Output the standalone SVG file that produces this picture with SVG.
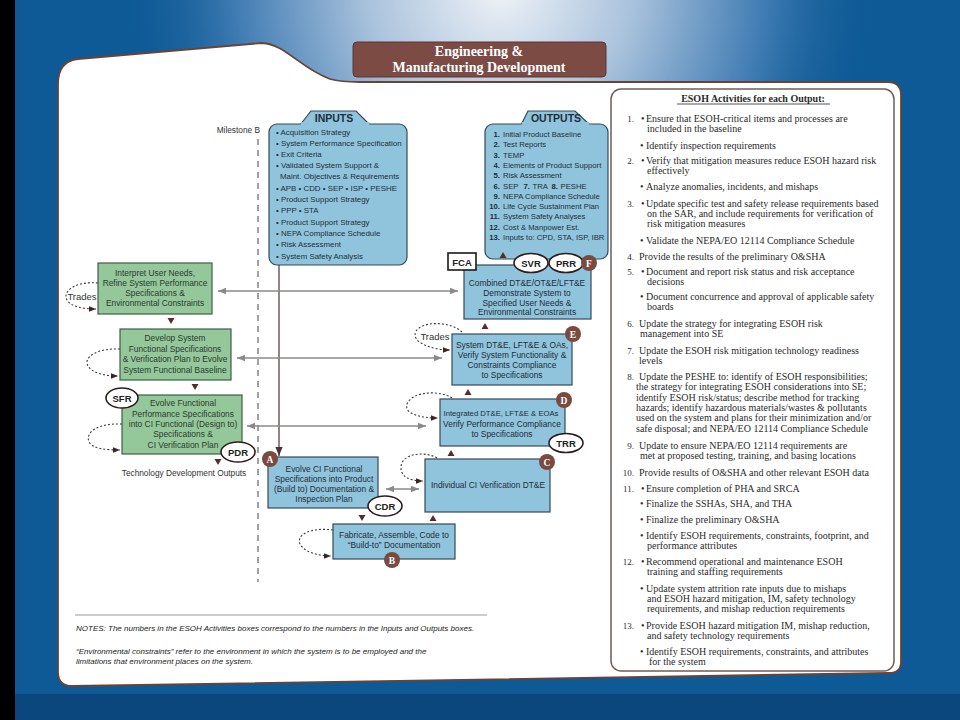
<svg xmlns="http://www.w3.org/2000/svg" width="960" height="720" viewBox="0 0 960 720">
<defs>
<radialGradient id="glow" cx="500" cy="-10" r="380" gradientUnits="userSpaceOnUse">
<stop offset="0" stop-color="#eef2f7"/>
<stop offset="0.35" stop-color="#a9c2dc"/>
<stop offset="0.7" stop-color="#3f7bb3"/>
<stop offset="1" stop-color="#0e5a96" stop-opacity="0"/>
</radialGradient>
<marker id="ag" viewBox="0 0 10 10" refX="10" refY="5" markerWidth="9" markerHeight="8" markerUnits="userSpaceOnUse" orient="auto-start-reverse">
<path d="M0,1 L10,5 L0,9 z" fill="#8a8a8a"/>
</marker>
<marker id="ad" viewBox="0 0 10 10" refX="10" refY="5" markerWidth="7" markerHeight="7" markerUnits="userSpaceOnUse" orient="auto">
<path d="M0,1 L10,5 L0,9 z" fill="#3b2522"/>
</marker>
<marker id="av" viewBox="0 0 10 10" refX="10" refY="5" markerWidth="9" markerHeight="9" markerUnits="userSpaceOnUse" orient="auto">
<path d="M0,1 L10,5 L0,9 z" fill="#4a3330"/>
</marker>
<style>
.sans{font-family:"Liberation Sans",Arial,sans-serif;}
.serif{font-family:"Liberation Serif","Times New Roman",serif;}
.bb{fill:#8fc4dc;stroke:#34495a;stroke-width:1.2;}
.bg{fill:#94c89a;stroke:#3e5e46;stroke-width:1.2;}
.t{font-family:"Liberation Sans",Arial,sans-serif;font-size:8.4px;fill:#1f2d3a;text-anchor:middle;}
.t.sm2{font-size:7.7px;}
.tg{font-family:"Liberation Sans",Arial,sans-serif;font-size:8.4px;fill:#2c3a2f;text-anchor:middle;}
.li{font-family:"Liberation Sans",Arial,sans-serif;font-size:7.9px;fill:#1f2d3a;}
.lo{font-family:"Liberation Sans",Arial,sans-serif;font-size:7.7px;fill:#1f2d3a;}
.hd{font-family:"Liberation Sans",Arial,sans-serif;font-size:10.5px;font-weight:bold;fill:#1f2d3a;text-anchor:middle;}
.ms{fill:#fff;stroke:#2d1e1c;stroke-width:1.6;}
.mt{font-family:"Liberation Sans",Arial,sans-serif;font-size:9.5px;font-weight:bold;fill:#222;text-anchor:middle;}
.bd{fill:#7a4a41;}
.bt{font-family:"Liberation Serif",serif;font-size:9.5px;font-weight:bold;fill:#fff;text-anchor:middle;}
.loop{fill:none;stroke:#3a3a3a;stroke-width:1.1;stroke-dasharray:2 2;marker-end:url(#ad);}
.hl{stroke:#8a8a8a;stroke-width:1.6;fill:none;marker-start:url(#ag);marker-end:url(#ag);}
.tri{fill:#5a2c28;}
.e{font-family:"Liberation Serif","Times New Roman",serif;font-size:10px;fill:#2a2a2a;}
.en{font-family:"Liberation Serif","Times New Roman",serif;font-size:9px;fill:#2a2a2a;text-anchor:end;}
.note{font-family:"Liberation Sans",Arial,sans-serif;font-size:8px;font-style:italic;fill:#222;}
.sm{font-family:"Liberation Sans",Arial,sans-serif;font-size:8.3px;fill:#333;}
.on{font-weight:bold;text-anchor:end;}
</style>
</defs>

<!-- background -->
<rect x="0" y="0" width="960" height="720" fill="#0e5a96"/>
<rect x="0" y="0" width="960" height="720" fill="url(#glow)"/>
<rect x="0" y="694" width="960" height="26" fill="#0b467d"/>
<rect x="0" y="0" width="15" height="720" fill="#000"/>

<!-- white panel -->
<path d="M58,84 Q58,61 78,59 L262,43 C285,44 300,68 330,79 Q340,82 360,82 L888,82 Q901,82 901,95 L901,662 Q901,673 889,673 L72,686 Q58,686 58,672 Z" fill="#fff" stroke="#6b4336" stroke-width="1.8"/>

<!-- title -->
<g id="title">
<rect x="353" y="42" width="253" height="35" rx="4" fill="#7b4b44" stroke="#5e3530" stroke-width="1"/>
<text x="479" y="56" class="serif" font-size="14" font-weight="bold" fill="#fff" text-anchor="middle">Engineering &amp;</text>
<text x="479" y="72" class="serif" font-size="14" font-weight="bold" fill="#fff" text-anchor="middle">Manufacturing Development</text>
</g>

<!-- milestone B -->
<g id="milestone-b">
<text x="260" y="133" class="sm" text-anchor="end">Milestone B</text>
<line x1="258" y1="139" x2="258" y2="582" stroke="#444" stroke-width="1" stroke-dasharray="6 5"/>
</g>

<!-- inputs -->
<g id="inputs">
<path d="M300,125 L311,111 L356,111 L370,125 Z" class="bb"/>
<rect x="269" y="124" width="138" height="141" rx="8" class="bb"/>
<rect x="300.8" y="122" width="68.5" height="4" fill="#8fc4dc"/>
<text x="334" y="122" class="hd">INPUTS</text>
<text class="li" x="276" y="134.5">• Acquisition Strategy</text>
<text class="li" x="276" y="146">• System Performance Specification</text>
<text class="li" x="276" y="157">• Exit Criteria</text>
<text class="li" x="276" y="168">• Validated System Support &amp;</text>
<text class="li" x="280" y="178.7">Maint. Objectives &amp; Requirements</text>
<text class="li" x="276" y="190.5">• APB  • CDD  • SEP  • ISP  • PESHE</text>
<text class="li" x="276" y="202">• Product Support Strategy</text>
<text class="li" x="276" y="213">• PPP  • STA</text>
<text class="li" x="276" y="224.5">• Product Support Strategy</text>
<text class="li" x="276" y="235.5">• NEPA Compliance Schedule</text>
<text class="li" x="276" y="247">• Risk Assessment</text>
<text class="li" x="276" y="258.5">• System Safety Analysis</text>
</g>

<!-- outputs -->
<g id="outputs">
<path d="M521,125 L528,111 L575,111 L590,125 Z" class="bb"/>
<rect x="485" y="124" width="123" height="135" rx="8" class="bb"/>
<rect x="521.8" y="122" width="67.5" height="4" fill="#8fc4dc"/>
<text x="556" y="122" class="hd">OUTPUTS</text>
<g class="lo">
<text x="500" y="137" class="on">1.</text><text x="503" y="137">Initial Product Baseline</text>
<text x="500" y="147.3" class="on">2.</text><text x="503" y="147.3">Test Reports</text>
<text x="500" y="157.6" class="on">3.</text><text x="503" y="157.6">TEMP</text>
<text x="500" y="167.9" class="on">4.</text><text x="503" y="167.9">Elements of Product Support</text>
<text x="500" y="178.2" class="on">5.</text><text x="503" y="178.2">Risk Assessment</text>
<text x="500" y="188.5" class="on">6.</text><text x="503" y="188.5">SEP</text>
<text x="530" y="188.5" class="on">7.</text><text x="532.5" y="188.5">TRA</text>
<text x="558" y="188.5" class="on">8.</text><text x="560.5" y="188.5">PESHE</text>
<text x="500" y="198.8" class="on">9.</text><text x="503" y="198.8">NEPA Compliance Schedule</text>
<text x="500" y="209.1" class="on">10.</text><text x="503" y="209.1">Life Cycle Sustainment Plan</text>
<text x="500" y="219.4" class="on">11.</text><text x="503" y="219.4">System Safety Analyses</text>
<text x="500" y="229.7" class="on">12.</text><text x="503" y="229.7">Cost &amp; Manpower Est.</text>
<text x="500" y="240" class="on">13.</text><text x="503" y="240">Inputs to: CPD, STA, ISP, IBR</text>
</g>
</g>

<!-- left green nodes -->
<g id="n-interpret">
<rect x="98" y="263" width="114" height="51" class="bg"/>
<text class="tg" x="155" y="276">Interpret User Needs,</text>
<text class="tg" x="155" y="286">Refine System Performance</text>
<text class="tg" x="155" y="296">Specifications &amp;</text>
<text class="tg" x="155" y="306">Environmental Constraints</text>
</g>
<g id="n-develop">
<rect x="120" y="329" width="111" height="51" class="bg"/>
<text class="tg" x="175" y="341">Develop System</text>
<text class="tg" x="175" y="352">Functional Specifications</text>
<text class="tg" x="175" y="362">&amp; Verification Plan to Evolve</text>
<text class="tg" x="175" y="373">System Functional Baseline</text>
</g>
<g id="n-evolve-functional">
<rect x="122" y="395" width="120" height="59" class="bg"/>
<text class="tg" x="183" y="406">Evolve Functional</text>
<text class="tg" x="183" y="417">Performance Specifications</text>
<text class="tg" x="183" y="427">into CI Functional (Design to)</text>
<text class="tg" x="183" y="437">Specifications &amp;</text>
<text class="tg" x="183" y="448">CI Verification Plan</text>
<ellipse cx="122" cy="398" rx="16" ry="10" class="ms"/>
<text class="mt" x="122" y="401.5">SFR</text>
<ellipse cx="238" cy="452" rx="17" ry="10" class="ms"/>
<text class="mt" x="238" y="455.5">PDR</text>
</g>
<text class="sm" x="184" y="476" text-anchor="middle" fill="#444">Technology Development Outputs</text>

<!-- blue nodes -->
<g id="n-F">
<rect x="464" y="265" width="127" height="54" class="bb"/>
<text class="t" x="527" y="286">Combined DT&amp;E/OT&amp;E/LFT&amp;E</text>
<text class="t" x="527" y="296">Demonstrate System to</text>
<text class="t" x="527" y="305.5">Specified User Needs &amp;</text>
<text class="t" x="527" y="315">Environmental Constraints</text>
<rect x="448" y="253" width="28" height="17" fill="#fff" stroke="#1a1a1a" stroke-width="1.6"/>
<text class="mt" x="462" y="265.5">FCA</text>
<ellipse cx="531" cy="263" rx="17" ry="9.5" class="ms"/>
<text class="mt" x="531" y="266.5">SVR</text>
<ellipse cx="566" cy="263" rx="17" ry="9.5" class="ms"/>
<text class="mt" x="566" y="266.5">PRR</text>
<circle cx="589" cy="263" r="8" class="bd"/>
<text class="bt" x="589" y="266.5">F</text>
</g>
<g id="n-E">
<rect x="452" y="334" width="120" height="51" class="bb"/>
<text class="t" x="512" y="348">System DT&amp;E, LFT&amp;E &amp; OAs,</text>
<text class="t" x="512" y="358">Verify System Functionality &amp;</text>
<text class="t" x="512" y="368">Constraints Compliance</text>
<text class="t" x="512" y="378">to Specifications</text>
<circle cx="573" cy="334" r="8" class="bd"/>
<text class="bt" x="573" y="337.5">E</text>
</g>
<g id="n-D">
<rect x="440" y="399" width="125" height="47" class="bb"/>
<text class="t sm2" x="501" y="416">Integrated DT&amp;E, LFT&amp;E &amp; EOAs</text>
<text class="t" x="502" y="427">Verify Performance Compliance</text>
<text class="t" x="502" y="437">to Specifications</text>
<circle cx="564" cy="400" r="8" class="bd"/>
<text class="bt" x="564" y="403.5">D</text>
<ellipse cx="566" cy="443" rx="17" ry="9.5" class="ms"/>
<text class="mt" x="566" y="446.5">TRR</text>
</g>
<g id="n-C">
<rect x="425" y="459" width="125" height="53" class="bb"/>
<text class="t" x="488" y="488">Individual CI Verification DT&amp;E</text>
<circle cx="547" cy="462" r="8" class="bd"/>
<text class="bt" x="547" y="465.5">C</text>
</g>
<g id="n-A">
<rect x="268" y="457" width="110" height="51" class="bb"/>
<text class="t" x="324" y="472">Evolve CI Functional</text>
<text class="t" x="324" y="482">Specifications into Product</text>
<text class="t" x="324" y="492">(Build to) Documentation &amp;</text>
<text class="t" x="324" y="502">Inspection Plan</text>
<circle cx="270" cy="459" r="8" class="bd"/>
<text class="bt" x="270" y="462.5">A</text>
<ellipse cx="385" cy="506" rx="17" ry="10" class="ms"/>
<text class="mt" x="385" y="509.5">CDR</text>
</g>
<g id="n-B">
<rect x="333" y="524" width="122" height="35" class="bb"/>
<text class="t" x="394" y="538">Fabricate, Assemble, Code to</text>
<text class="t" x="394" y="548">“Build-to” Documentation</text>
<circle cx="392" cy="560" r="8" class="bd"/>
<text class="bt" x="392" y="563.5">B</text>
</g>

<!-- connectors -->
<g id="connectors">
<line x1="279" y1="265" x2="279" y2="456" stroke="#4a3330" stroke-width="1.2" marker-end="url(#av)"/>
<line x1="218" y1="291" x2="458" y2="291" class="hl"/>
<line x1="237" y1="358" x2="442" y2="358" class="hl"/>
<line x1="247" y1="426" x2="426" y2="426" class="hl"/>
<line x1="386" y1="489" x2="419" y2="489" class="hl"/>
<path class="loop" d="M98,283 C76,281 62,291 67,300 C71,307 84,309 96,309"/>
<path class="loop" d="M120,349 C97,348 83,357 88,366 C92,373 105,376 118,376"/>
<path class="loop" d="M122,424 C98,423 85,432 89,442 C93,449 107,450 120,450"/>
<path class="loop" d="M462,332 C452,322 424,320 416,331 C410,343 434,350 450,350"/>
<path class="loop" d="M452,398 C440,390 412,391 407,404 C404,414 420,418 438,418"/>
<path class="loop" d="M437,458 C425,451 403,453 401,466 C400,477 410,481 423,481"/>
<path class="loop" d="M333,530 C310,527 296,535 300,544 C304,552 318,556 331,556"/>
<polygon class="tri" points="167.5,318 174.5,318 171,324"/>
<polygon class="tri" points="191.5,384 198.5,384 195,390"/>
<polygon class="tri" points="214.5,459 221.5,459 218,465"/>
<polygon class="tri" points="358.5,515 365.5,515 362,521"/>
<polygon class="tri" points="429.5,521 436.5,521 433,515"/>
<polygon class="tri" points="447.5,456 454.5,456 451,450"/>
<polygon class="tri" points="464.5,395 471.5,395 468,389"/>
<polygon class="tri" points="481.5,329 488.5,329 485,323"/>
<polygon class="tri" points="499.5,258 506.5,258 503,252"/>
</g>
<text class="sans" x="82" y="300" font-size="9.5" fill="#333" text-anchor="middle">Trades</text>
<text class="sans" x="435" y="340" font-size="9.5" fill="#333" text-anchor="middle">Trades</text>

<!-- ESOH panel -->
<g id="esoh">
<rect x="611" y="89" width="283" height="582" rx="10" fill="#fff" stroke="#6e5e5a" stroke-width="1.5"/>
<text class="e" x="753" y="101.5" font-size="10.5" font-weight="bold" text-anchor="middle">ESOH Activities for each Output:</text>
<line x1="677" y1="104" x2="830" y2="104" stroke="#2a2a2a" stroke-width="0.8"/>
<text class="en" x="634" y="121.5">1.</text><text class="e" x="641" y="121.5">•</text><text class="e" x="646" y="121.5">Ensure that ESOH-critical items and processes are</text>
<text class="e" x="647" y="131.5">included in the baseline</text>
<text class="e" x="640" y="148.5">•</text><text class="e" x="646" y="148.5">Identify inspection requirements</text>
<text class="en" x="634" y="163.5">2.</text><text class="e" x="641" y="163.5">•</text><text class="e" x="646" y="163.5">Verify that mitigation measures reduce ESOH hazard risk</text>
<text class="e" x="647" y="174">effectively</text>
<text class="e" x="640" y="190">•</text><text class="e" x="646" y="190">Analyze anomalies, incidents, and mishaps</text>
<text class="en" x="634" y="206.5">3.</text><text class="e" x="641" y="206.5">•</text><text class="e" x="646" y="206.5">Update specific test and safety release requirements based</text>
<text class="e" x="647" y="216.5">on the SAR, and include requirements for verification of</text>
<text class="e" x="647" y="226.5">risk mitigation measures</text>
<text class="e" x="640" y="243.5">•</text><text class="e" x="646" y="243.5">Validate the NEPA/EO 12114 Compliance Schedule</text>
<text class="en" x="634" y="260">4.</text><text class="e" x="639" y="260">Provide the results of the preliminary O&amp;SHA</text>
<text class="en" x="634" y="275">5.</text><text class="e" x="641" y="275">•</text><text class="e" x="646" y="275">Document and report risk status and risk acceptance</text>
<text class="e" x="647" y="285">decisions</text>
<text class="e" x="640" y="300">•</text><text class="e" x="646" y="300">Document concurrence and approval of applicable safety</text>
<text class="e" x="647" y="310">boards</text>
<text class="en" x="634" y="326.5">6.</text><text class="e" x="639" y="326.5">Update the strategy for integrating ESOH risk</text>
<text class="e" x="640" y="336.5">management into SE</text>
<text class="en" x="634" y="353.5">7.</text><text class="e" x="639" y="353.5">Update the ESOH risk mitigation technology readiness</text>
<text class="e" x="639" y="363.5">levels</text>
<text class="en" x="634" y="380">8.</text><text class="e" x="639" y="380">Update the PESHE to: identify of ESOH responsibilities;</text>
<text class="e" x="636" y="390">the strategy for integrating ESOH considerations into SE;</text>
<text class="e" x="636" y="400.5">identify ESOH risk/status; describe method for tracking</text>
<text class="e" x="636" y="411">hazards; identify hazardous materials/wastes &amp; pollutants</text>
<text class="e" x="636" y="421">used on the system and plans for their minimization and/or</text>
<text class="e" x="636" y="431.5">safe disposal; and NEPA/EO 12114 Compliance Schedule</text>
<text class="en" x="634" y="448.5">9.</text><text class="e" x="639" y="448.5">Update to ensure NEPA/EO 12114 requirements are</text>
<text class="e" x="640" y="458.5">met at proposed testing, training, and basing locations</text>
<text class="en" x="634" y="476">10.</text><text class="e" x="639" y="476">Provide results of O&amp;SHA and other relevant ESOH data</text>
<text class="en" x="634" y="491.5">11.</text><text class="e" x="641" y="491.5">•</text><text class="e" x="646" y="491.5">Ensure completion of PHA and SRCA</text>
<text class="e" x="640" y="506.5">•</text><text class="e" x="646" y="506.5">Finalize the SSHAs, SHA, and THA</text>
<text class="e" x="640" y="523">•</text><text class="e" x="646" y="523">Finalize the preliminary O&amp;SHA</text>
<text class="e" x="640" y="538.5">•</text><text class="e" x="646" y="538.5">Identify ESOH requirements, constraints, footprint, and</text>
<text class="e" x="647" y="549">performance attributes</text>
<text class="en" x="634" y="565">12.</text><text class="e" x="641" y="565">•</text><text class="e" x="646" y="565">Recommend operational and maintenance ESOH</text>
<text class="e" x="647" y="575">training and staffing requirements</text>
<text class="e" x="640" y="591.5">•</text><text class="e" x="646" y="591.5">Update system attrition rate inputs due to mishaps</text>
<text class="e" x="647" y="601.5">and ESOH hazard mitigation, IM, safety technology</text>
<text class="e" x="647" y="611.5">requirements, and mishap reduction requirements</text>
<text class="en" x="634" y="628.5">13.</text><text class="e" x="641" y="628.5">•</text><text class="e" x="646" y="628.5">Provide ESOH hazard mitigation IM, mishap reduction,</text>
<text class="e" x="647" y="638.5">and safety technology requirements</text>
<text class="e" x="640" y="655">•</text><text class="e" x="646" y="655">Identify ESOH requirements, constraints, and attributes</text>
<text class="e" x="649" y="665">for the system</text>
</g>

<!-- notes -->
<g id="notes">
<line x1="75" y1="615" x2="487" y2="615" stroke="#999" stroke-width="1"/>
<text class="note" x="76" y="631">NOTES: The numbers in the ESOH Activities boxes correspond to the numbers in the Inputs and Outputs boxes.</text>
<text class="note" x="76" y="654">“Environmental constraints” refer to the environment in which the system is to be employed and the</text>
<text class="note" x="76" y="664">limitations that environment places on the system.</text>
</g>
</svg>
